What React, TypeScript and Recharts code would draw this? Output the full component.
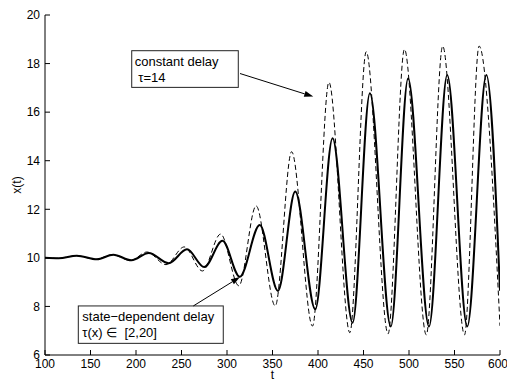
import React from 'react'
import { LineChart, Line, XAxis, YAxis, ReferenceArea, ReferenceLine } from 'recharts'

// t values / x(t) (extrema of each swing)
const solidT = [100, 115, 135, 157, 175, 195, 214, 236, 256, 275, 295, 314, 336, 356, 375, 397, 416, 438, 457, 480, 499, 522, 542, 564, 585, 600]
const solidX = [10.0, 9.98, 10.09, 9.94, 10.13, 9.9, 10.2, 9.78, 10.35, 9.62, 10.7, 9.22, 11.35, 8.64, 12.73, 7.88, 14.92, 7.33, 16.78, 7.17, 17.39, 7.17, 17.53, 7.17, 17.53, 8.65]

const dashT = [100, 115, 134, 156, 174, 194, 212, 233, 253, 273, 293, 313, 332, 353, 371, 394, 412, 435, 453, 477, 495, 519, 537, 561, 577, 600]
const dashX = [10.0, 9.98, 10.09, 9.94, 10.13, 9.89, 10.24, 9.72, 10.45, 9.46, 10.98, 8.85, 12.14, 8.02, 14.37, 7.19, 17.23, 6.92, 18.49, 6.87, 18.59, 6.83, 18.72, 6.83, 18.72, 7.2]

const xTicks = [100, 150, 200, 250, 300, 350, 400, 450, 500, 550, 600]
const yTicks = [6, 8, 10, 12, 14, 16, 18, 20]

const constLabel = ['constant delay', ' \u03c4=14']
const stateLabel = ['state\u2212dependent delay', '\u03c4(x) \u2208  [2,20]']

const solidData = solidT.map((t, i) => ({ t, x: solidX[i] }))
const dashData = dashT.map((t, i) => ({ t, x: dashX[i] }))

const FONT = '"Liberation Sans", Arial, Helvetica, sans-serif'

const textBox = (lines: string[], indent: number[]) => (p: any) => (
    <g>
        <rect x={p.x} y={p.y} width={p.width} height={p.height} fill="#fff" stroke="#222" strokeWidth={1} />
        {lines.map((s, i) => (
            <text key={i} x={p.x + indent[i]} y={p.y + 15.5 + i * 15.5} fontSize={13} fontFamily={FONT} fill="#000" style={{ whiteSpace: 'pre' }}>
                {s}
            </text>
        ))}
    </g>
)

const arrow = (p: any) => {
    const { x1, y1, x2, y2 } = p
    const a = Math.atan2(y2 - y1, x2 - x1)
    const L = 9
    const W = 3
    const bx = x2 - L * Math.cos(a)
    const by = y2 - L * Math.sin(a)
    const pts = [
        `${x2},${y2}`,
        `${bx + W * Math.sin(a)},${by - W * Math.cos(a)}`,
        `${bx - W * Math.sin(a)},${by + W * Math.cos(a)}`,
    ].join(' ')
    return (
        <g>
            <line x1={x1} y1={y1} x2={bx} y2={by} stroke="#000" strokeWidth={1} />
            <polygon points={pts} fill="#000" />
        </g>
    )
}

const yLabel = (p: any) => {
    const vb = p.viewBox
    const cx = vb.x + 17
    const cy = vb.y + vb.height / 2
    return (
        <text x={cx} y={cy} transform={`rotate(-90 ${cx} ${cy})`} textAnchor="middle" dominantBaseline="central" fontSize={12} fontFamily={FONT} fill="#000">
            x(t)
        </text>
    )
}

const tickStyle = { fill: '#000', fontSize: 12, fontFamily: FONT }

export default function App() {
    return (
        <div style={{ position: 'absolute', left: 0, top: 0, width: 507, height: 382, background: '#fff' }}>
            <LineChart width={507} height={382} margin={{ top: 15, right: 7, bottom: 0, left: 0 }}>
                <XAxis
                    dataKey="t"
                    type="number"
                    domain={[100, 600]}
                    ticks={xTicks}
                    allowDataOverflow
                    height={27}
                    tickSize={-5}
                    tickMargin={9}
                    stroke="#000"
                    tick={tickStyle}
                    label={{ value: 't', position: 'insideBottom', offset: 3, fontSize: 12, fontFamily: FONT, fill: '#000' }}
                />
                <YAxis
                    type="number"
                    domain={[6, 20]}
                    ticks={yTicks}
                    allowDataOverflow
                    width={45}
                    tickSize={-5}
                    tickMargin={10}
                    stroke="#000"
                    tick={tickStyle}
                    label={{ content: yLabel }}
                />
                <XAxis xAxisId="top" orientation="top" type="number" domain={[100, 600]} ticks={xTicks} height={0} tickSize={-5} tickFormatter={() => ''} stroke="#000" />
                <YAxis yAxisId="right" orientation="right" type="number" domain={[6, 20]} ticks={yTicks} width={0} tickSize={-5} tickFormatter={() => ''} stroke="#000" />

                <ReferenceArea x1={195.3} x2={312.4} y1={17.02} y2={18.53} shape={textBox(constLabel, [3, 3])} />
                <ReferenceArea x1={136.6} x2={295.9} y1={6.48} y2={8.02} shape={textBox(stateLabel, [4, 4])} />
                <ReferenceLine segment={[{ x: 314.3, y: 17.59 }, { x: 394.8, y: 16.64 }]} shape={arrow} />
                <ReferenceLine segment={[{ x: 263, y: 8.02 }, { x: 314.3, y: 9.21 }]} shape={arrow} />

                <Line data={dashData} dataKey="x" type="monotone" stroke="#000" strokeWidth={1} strokeDasharray="5 3" dot={false} isAnimationActive={false} />
                <Line data={solidData} dataKey="x" type="monotone" stroke="#000" strokeWidth={2} dot={false} isAnimationActive={false} />
            </LineChart>
        </div>
    )
}
